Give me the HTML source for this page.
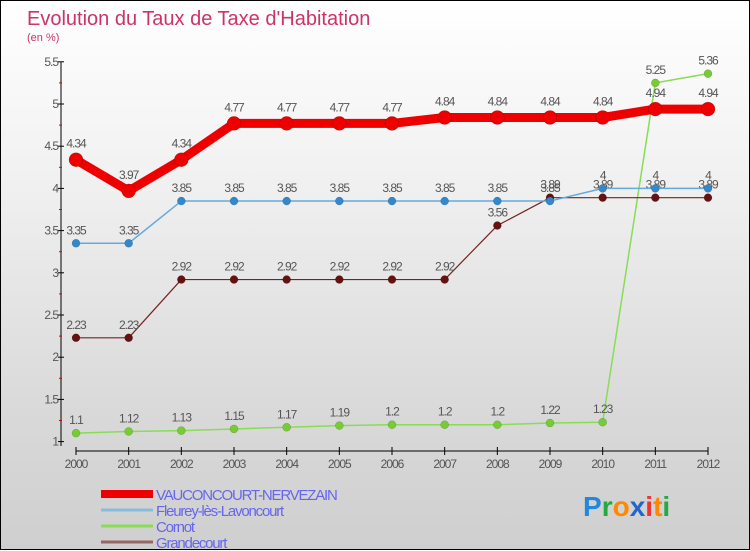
<!DOCTYPE html>
<html><head><meta charset="utf-8">
<style>
html,body{margin:0;padding:0;}
body{width:750px;height:550px;overflow:hidden;font-family:"Liberation Sans",sans-serif;}
#wrap{position:relative;width:748px;height:548px;border:1px solid #000;background:linear-gradient(#ffffff 0%,#f2f2f2 30%,#d9d9d9 75%,#cfcfcf 100%);}
svg{position:absolute;left:0;top:0;}
</style></head><body>
<div id="wrap">
<svg id="chart" width="750" height="550">
<text x="26" y="24" font-size="20" fill="#cc3366">Evolution du Taux de Taxe d'Habitation</text>
<text x="26" y="40" font-size="11" fill="#cc3366">(en %)</text>
</svg>
</div>
<script>
const years=[2000,2001,2002,2003,2004,2005,2006,2007,2008,2009,2010,2011,2012];
const vauconcourt=[4.34,3.97,4.34,4.77,4.77,4.77,4.77,4.84,4.84,4.84,4.84,4.94,4.94];
const fleurey=[3.35,3.35,3.85,3.85,3.85,3.85,3.85,3.85,3.85,3.85,4,4,4];
const cornot=[1.1,1.12,1.13,1.15,1.17,1.19,1.2,1.2,1.2,1.22,1.23,5.25,5.36];
const grandecourt=[2.23,2.23,2.92,2.92,2.92,2.92,2.92,2.92,3.56,3.89,3.89,3.89,3.89];
const yTicks=[1,1.5,2,2.5,3,3.5,4,4.5,5,5.5];
const seriesNames=["VAUCONCOURT-NERVEZAIN","Fleurey-lès-Lavoncourt","Cornot","Grandecourt"];

const NS="http://www.w3.org/2000/svg";
const svg=document.getElementById('chart');
function xS(i){return 75+i*(632/12);}
function yS(v){return 440.6-(v-1)*84.4;}
function mk(tag,attrs,parent){const e=document.createElementNS(NS,tag);for(const k in attrs)e.setAttribute(k,attrs[k]);(parent||svg).appendChild(e);return e;}

const ax=mk('g',{});


mk('line',{x1:60,y1:61,x2:60,y2:445,stroke:'#000','stroke-width':1},ax);
mk('line',{x1:75,y1:450,x2:707,y2:450,stroke:'#000','stroke-width':1},ax);
yTicks.forEach((t,i)=>{
  const y=yS(t);
  mk('line',{x1:57,y1:y,x2:63,y2:y,stroke:'#000'},ax);
  const tx=mk('text',{x:57,y:y+4,'font-size':12,fill:'#555','text-anchor':'end','letter-spacing':'-1'},ax);
  tx.textContent=String(t);
  
  
  if(i<yTicks.length-1){const ym=yS(t+0.25);mk('line',{x1:58,y1:ym,x2:61,y2:ym,stroke:'#d00'},ax);}
});
years.forEach((yr,i)=>{
  const x=xS(i);
  mk('line',{x1:x,y1:446,x2:x,y2:454,stroke:'#000'},ax);
  const tx=mk('text',{x:x,y:467,'font-size':12,fill:'#555','text-anchor':'middle','letter-spacing':'-1'},ax);
  tx.textContent=String(yr);
  
  
});

function series(vals,color,width,r,dot,name){
  const g=mk('g',{});
  
  
  mk('polyline',{points:vals.map((v,i)=>xS(i)+','+yS(v)).join(' '),fill:'none',stroke:color,'stroke-width':width,'stroke-linejoin':'round'},g);
  vals.forEach((v,i)=>{
    const c=mk('circle',{cx:xS(i),cy:yS(v),r:r,fill:dot,stroke:'rgba(0,0,0,0.25)','stroke-width':0.5},g);
    
    
    const t=mk('text',{x:xS(i),y:yS(v)-(r+5),'font-size':12,fill:'#555','text-anchor':'middle','letter-spacing':'-1'},g);
    t.textContent=String(v);
    
    
  });
}
series(cornot,'#88dd55',1.5,4,'#77cc33','series-cornot');
series(grandecourt,'#772222',1.2,4,'#661111','series-grandecourt');
series(fleurey,'#66aadd',1.5,4,'#3388cc','series-fleurey');
series(vauconcourt,'#ee0000',9,7,'#ee0000','series-vauconcourt');

const lg=mk('g',{});


const lc=['#ee0000','#88bbdd','#88dd55','#996666'];
const lw=[8,3,3,3];
seriesNames.forEach((n,i)=>{
  const y=493+i*16;
  const e=mk('g',{},lg);
  
  
  mk('line',{x1:100,y1:y,x2:152,y2:y,stroke:lc[i],'stroke-width':lw[i]},e);
  const t=mk('text',{x:155,y:y+6,'font-size':15,fill:'#6666ee','letter-spacing':'-1.2'},e);
  t.textContent=n;
});
const lo=mk('text',{x:582,y:515,'font-size':28,'font-weight':'bold','font-family':'Liberation Sans, sans-serif'});


[['P','#2288dd'],['r','#22aa44'],['o','#ff8800'],['x','#2266cc'],['i','#ee3333'],['t','#ff8800'],['i','#22aa44']].forEach(([ch,c])=>{const s=mk('tspan',{fill:c},lo);s.textContent=ch;});
</script>
</body></html>
